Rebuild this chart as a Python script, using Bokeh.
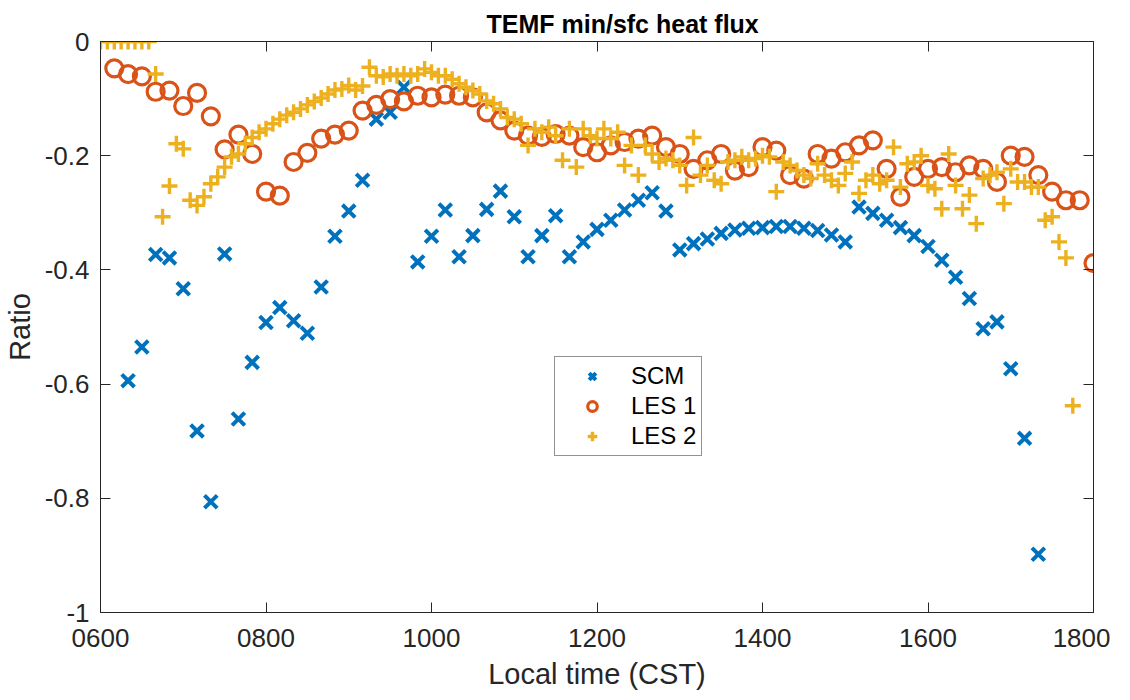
from bokeh.plotting import figure
from bokeh.models import Range1d, FixedTicker, LinearAxis
from bokeh.embed import file_html
from bokeh.resources import INLINE

# ---------------- data ----------------
scm_time = ["0620", "0630", "0640", "0650", "0700", "0710", "0720", "0730", "0740", "0750",
            "0800", "0810", "0820", "0830", "0840", "0850", "0900", "0910", "0920", "0930",
            "0940", "0950", "1000", "1010", "1020", "1030", "1040", "1050", "1100", "1110",
            "1120", "1130", "1140", "1150", "1200", "1210", "1220", "1230", "1240", "1250",
            "1300", "1310", "1320", "1330", "1340", "1350", "1400", "1410", "1420", "1430",
            "1440", "1450", "1500", "1510", "1520", "1530", "1540", "1550", "1600", "1610",
            "1620", "1630", "1640", "1650", "1700", "1710", "1720"]
scm_ratio = [-0.594, -0.535, -0.373, -0.379, -0.433, -0.682, -0.806, -0.372, -0.661, -0.562,
             -0.492, -0.466, -0.489, -0.511, -0.430, -0.341, -0.297, -0.243, -0.136, -0.124,
             -0.080, -0.386, -0.341, -0.295, -0.377, -0.340, -0.294, -0.262, -0.307, -0.377,
             -0.340, -0.305, -0.377, -0.351, -0.329, -0.313, -0.295, -0.278, -0.265, -0.297,
             -0.365, -0.354, -0.346, -0.336, -0.330, -0.327, -0.326, -0.324, -0.324, -0.327,
             -0.331, -0.339, -0.351, -0.290, -0.301, -0.313, -0.326, -0.340, -0.359, -0.383,
             -0.413, -0.450, -0.503, -0.491, -0.573, -0.695, -0.898]

les1_time = ["0610", "0620", "0630", "0640", "0650", "0700", "0710", "0720", "0730", "0740",
             "0750", "0800", "0810", "0820", "0830", "0840", "0850", "0900", "0910", "0920",
             "0930", "0940", "0950", "1000", "1010", "1020", "1030", "1040", "1050", "1100",
             "1110", "1120", "1130", "1140", "1150", "1200", "1210", "1220", "1230", "1240",
             "1250", "1300", "1310", "1320", "1330", "1340", "1350", "1400", "1410", "1420",
             "1430", "1440", "1450", "1500", "1510", "1520", "1530", "1540", "1550", "1600",
             "1610", "1620", "1630", "1640", "1650", "1700", "1710", "1720", "1730", "1740",
             "1750", "1800"]
les1_ratio = [-0.047, -0.057, -0.061, -0.088, -0.086, -0.113, -0.090, -0.131, -0.189, -0.163,
              -0.197, -0.263, -0.270, -0.211, -0.195, -0.170, -0.163, -0.156, -0.121, -0.111,
              -0.101, -0.105, -0.095, -0.098, -0.093, -0.095, -0.098, -0.124, -0.138, -0.156,
              -0.165, -0.167, -0.162, -0.165, -0.185, -0.194, -0.182, -0.176, -0.170, -0.165,
              -0.185, -0.197, -0.223, -0.208, -0.197, -0.226, -0.220, -0.185, -0.191, -0.234,
              -0.240, -0.197, -0.205, -0.194, -0.182, -0.173, -0.223, -0.272, -0.237, -0.223,
              -0.220, -0.229, -0.217, -0.223, -0.246, -0.200, -0.202, -0.234, -0.263, -0.278,
              -0.278, -0.388]

les2_time = ["0600", "0605", "0610", "0615", "0620", "0625", "0630", "0635", "0640", "0645",
             "0650", "0655", "0700", "0705", "0710", "0715", "0720", "0725", "0730", "0735",
             "0740", "0745", "0750", "0755", "0800", "0805", "0810", "0815", "0820", "0825",
             "0830", "0835", "0840", "0845", "0850", "0855", "0900", "0905", "0910", "0915",
             "0920", "0925", "0930", "0935", "0940", "0945", "0950", "0955", "1000", "1005",
             "1010", "1015", "1020", "1025", "1030", "1035", "1040", "1045", "1050", "1055",
             "1100", "1105", "1110", "1115", "1120", "1125", "1130", "1135", "1140", "1145",
             "1150", "1155", "1200", "1205", "1210", "1215", "1220", "1225", "1230", "1235",
             "1240", "1245", "1250", "1255", "1300", "1305", "1310", "1315", "1320", "1325",
             "1330", "1335", "1340", "1345", "1350", "1355", "1400", "1405", "1410", "1415",
             "1420", "1425", "1430", "1435", "1440", "1445", "1450", "1455", "1500", "1505",
             "1510", "1515", "1520", "1525", "1530", "1535", "1540", "1545", "1550", "1555",
             "1600", "1605", "1610", "1615", "1620", "1625", "1630", "1635", "1640", "1645",
             "1650", "1655", "1700", "1705", "1710", "1715", "1720", "1725", "1730", "1735",
             "1740", "1745"]
les2_ratio = [0.0, 0.0, 0.0, 0.0, 0.0, 0.0, 0.0, 0.0, -0.057, -0.307,
              -0.253, -0.179, -0.188, -0.278, -0.287, -0.272, -0.249, -0.237, -0.220, -0.202,
              -0.197, -0.179, -0.168, -0.159, -0.153, -0.144, -0.136, -0.129, -0.124, -0.118,
              -0.111, -0.105, -0.099, -0.092, -0.085, -0.083, -0.077, -0.085, -0.078, -0.045,
              -0.060, -0.062, -0.057, -0.060, -0.057, -0.060, -0.057, -0.048, -0.054, -0.060,
              -0.060, -0.066, -0.074, -0.080, -0.086, -0.092, -0.104, -0.109, -0.118, -0.133,
              -0.136, -0.144, -0.182, -0.153, -0.159, -0.150, -0.165, -0.208, -0.153, -0.220,
              -0.153, -0.165, -0.170, -0.153, -0.170, -0.159, -0.217, -0.182, -0.234, -0.182,
              -0.197, -0.211, -0.205, -0.208, -0.217, -0.252, -0.168, -0.234, -0.217, -0.243,
              -0.249, -0.211, -0.208, -0.202, -0.208, -0.205, -0.200, -0.202, -0.263, -0.211,
              -0.217, -0.226, -0.234, -0.240, -0.214, -0.234, -0.243, -0.252, -0.231, -0.211,
              -0.266, -0.243, -0.234, -0.249, -0.243, -0.185, -0.255, -0.214, -0.211, -0.200,
              -0.252, -0.258, -0.293, -0.197, -0.252, -0.293, -0.269, -0.319, -0.240, -0.234,
              -0.229, -0.284, -0.223, -0.246, -0.246, -0.255, -0.255, -0.313, -0.307, -0.351,
              -0.379, -0.638]

x_ticks = [6, 8, 10, 12, 14, 16, 18]
x_tick_labels = ["0600", "0800", "1000", "1200", "1400", "1600", "1800"]
y_ticks = [-1, -0.8, -0.6, -0.4, -0.2, 0]
y_tick_labels = ["-1", "-0.8", "-0.6", "-0.4", "-0.2", "0"]


def hours(hhmm):
    return [int(s[:2]) + int(s[2:]) / 60.0 for s in hhmm]


AX = "#262626"
FONT = "Liberation Sans"

p = figure(width=1110, height=692, x_range=Range1d(6, 18), y_range=Range1d(-1, 0),
           output_backend="svg", toolbar_location=None,
           title="TEMF min/sfc heat flux",
           min_border_left=94, min_border_right=17, min_border_top=41, min_border_bottom=70)
p.background_fill_color = "white"
p.border_fill_color = "white"
p.grid.visible = False
p.outline_line_color = AX
p.outline_line_width = 1

p.title.align = "left"
p.title.offset = 386
p.title.vertical_align = "top"
p.title.text_font = FONT
p.title.text_font_style = "bold"
p.title.text_font_size = "25px"
p.title.text_color = "black"
p.title.standoff = 4

xt = FixedTicker(ticks=x_ticks)
yt = FixedTicker(ticks=y_ticks)
p.xaxis.ticker = xt
p.yaxis.ticker = yt
p.xaxis.major_label_overrides = dict(zip(x_ticks, x_tick_labels))
p.yaxis.major_label_overrides = dict(zip(y_ticks, y_tick_labels))
p.xaxis.axis_label = "Local time (CST)"
p.yaxis.axis_label = "Ratio"

for ax in (p.xaxis[0], p.yaxis[0]):
    ax.axis_line_color = AX
    ax.major_tick_line_color = AX
    ax.major_tick_in = 10
    ax.major_tick_out = 0
    ax.minor_tick_line_color = None
    ax.major_label_text_font = FONT
    ax.major_label_text_font_size = "26px"
    ax.major_label_text_color = AX
    ax.axis_label_text_font = FONT
    ax.axis_label_text_font_size = "29px"
    ax.axis_label_text_font_style = "normal"
    ax.axis_label_text_color = AX
p.xaxis.major_label_standoff = 16
p.yaxis.major_label_standoff = 11
p.xaxis.axis_label_standoff = 8
p.yaxis.axis_label_standoff = 6

# box ticks on top and right (MATLAB style), without labels
for loc, tk in (("above", xt), ("right", yt)):
    a = LinearAxis(ticker=tk, major_label_text_color=None, major_label_text_font_size="1px",
                   major_tick_in=10, major_tick_out=0, minor_tick_line_color=None,
                   axis_line_color=AX, major_tick_line_color=AX, major_label_standoff=0)
    p.add_layout(a, loc)

p.scatter(hours(scm_time), scm_ratio, marker="x", size=18, line_width=4,
          line_color="#0072BD", legend_label="SCM")
p.scatter(hours(les1_time), les1_ratio, marker="circle", size=17, line_width=3.2,
          line_color="#D95319", fill_color=None, legend_label="LES 1")
p.scatter(hours(les2_time), les2_ratio, marker="cross", size=16, line_width=3.4,
          line_color="#EDB120", legend_label="LES 2")

lg = p.legend[0]
lg.location = (454, 156)
lg.border_line_color = AX
lg.border_line_width = 1
lg.background_fill_color = "white"
lg.background_fill_alpha = 1
lg.label_text_font = FONT
lg.label_text_font_size = "24px"
lg.label_text_color = "black"
lg.glyph_width = 64
lg.glyph_height = 24
lg.label_standoff = 7
lg.padding = 5
lg.spacing = 2
lg.margin = 0

open("out.html", "w").write(file_html(p, INLINE))
